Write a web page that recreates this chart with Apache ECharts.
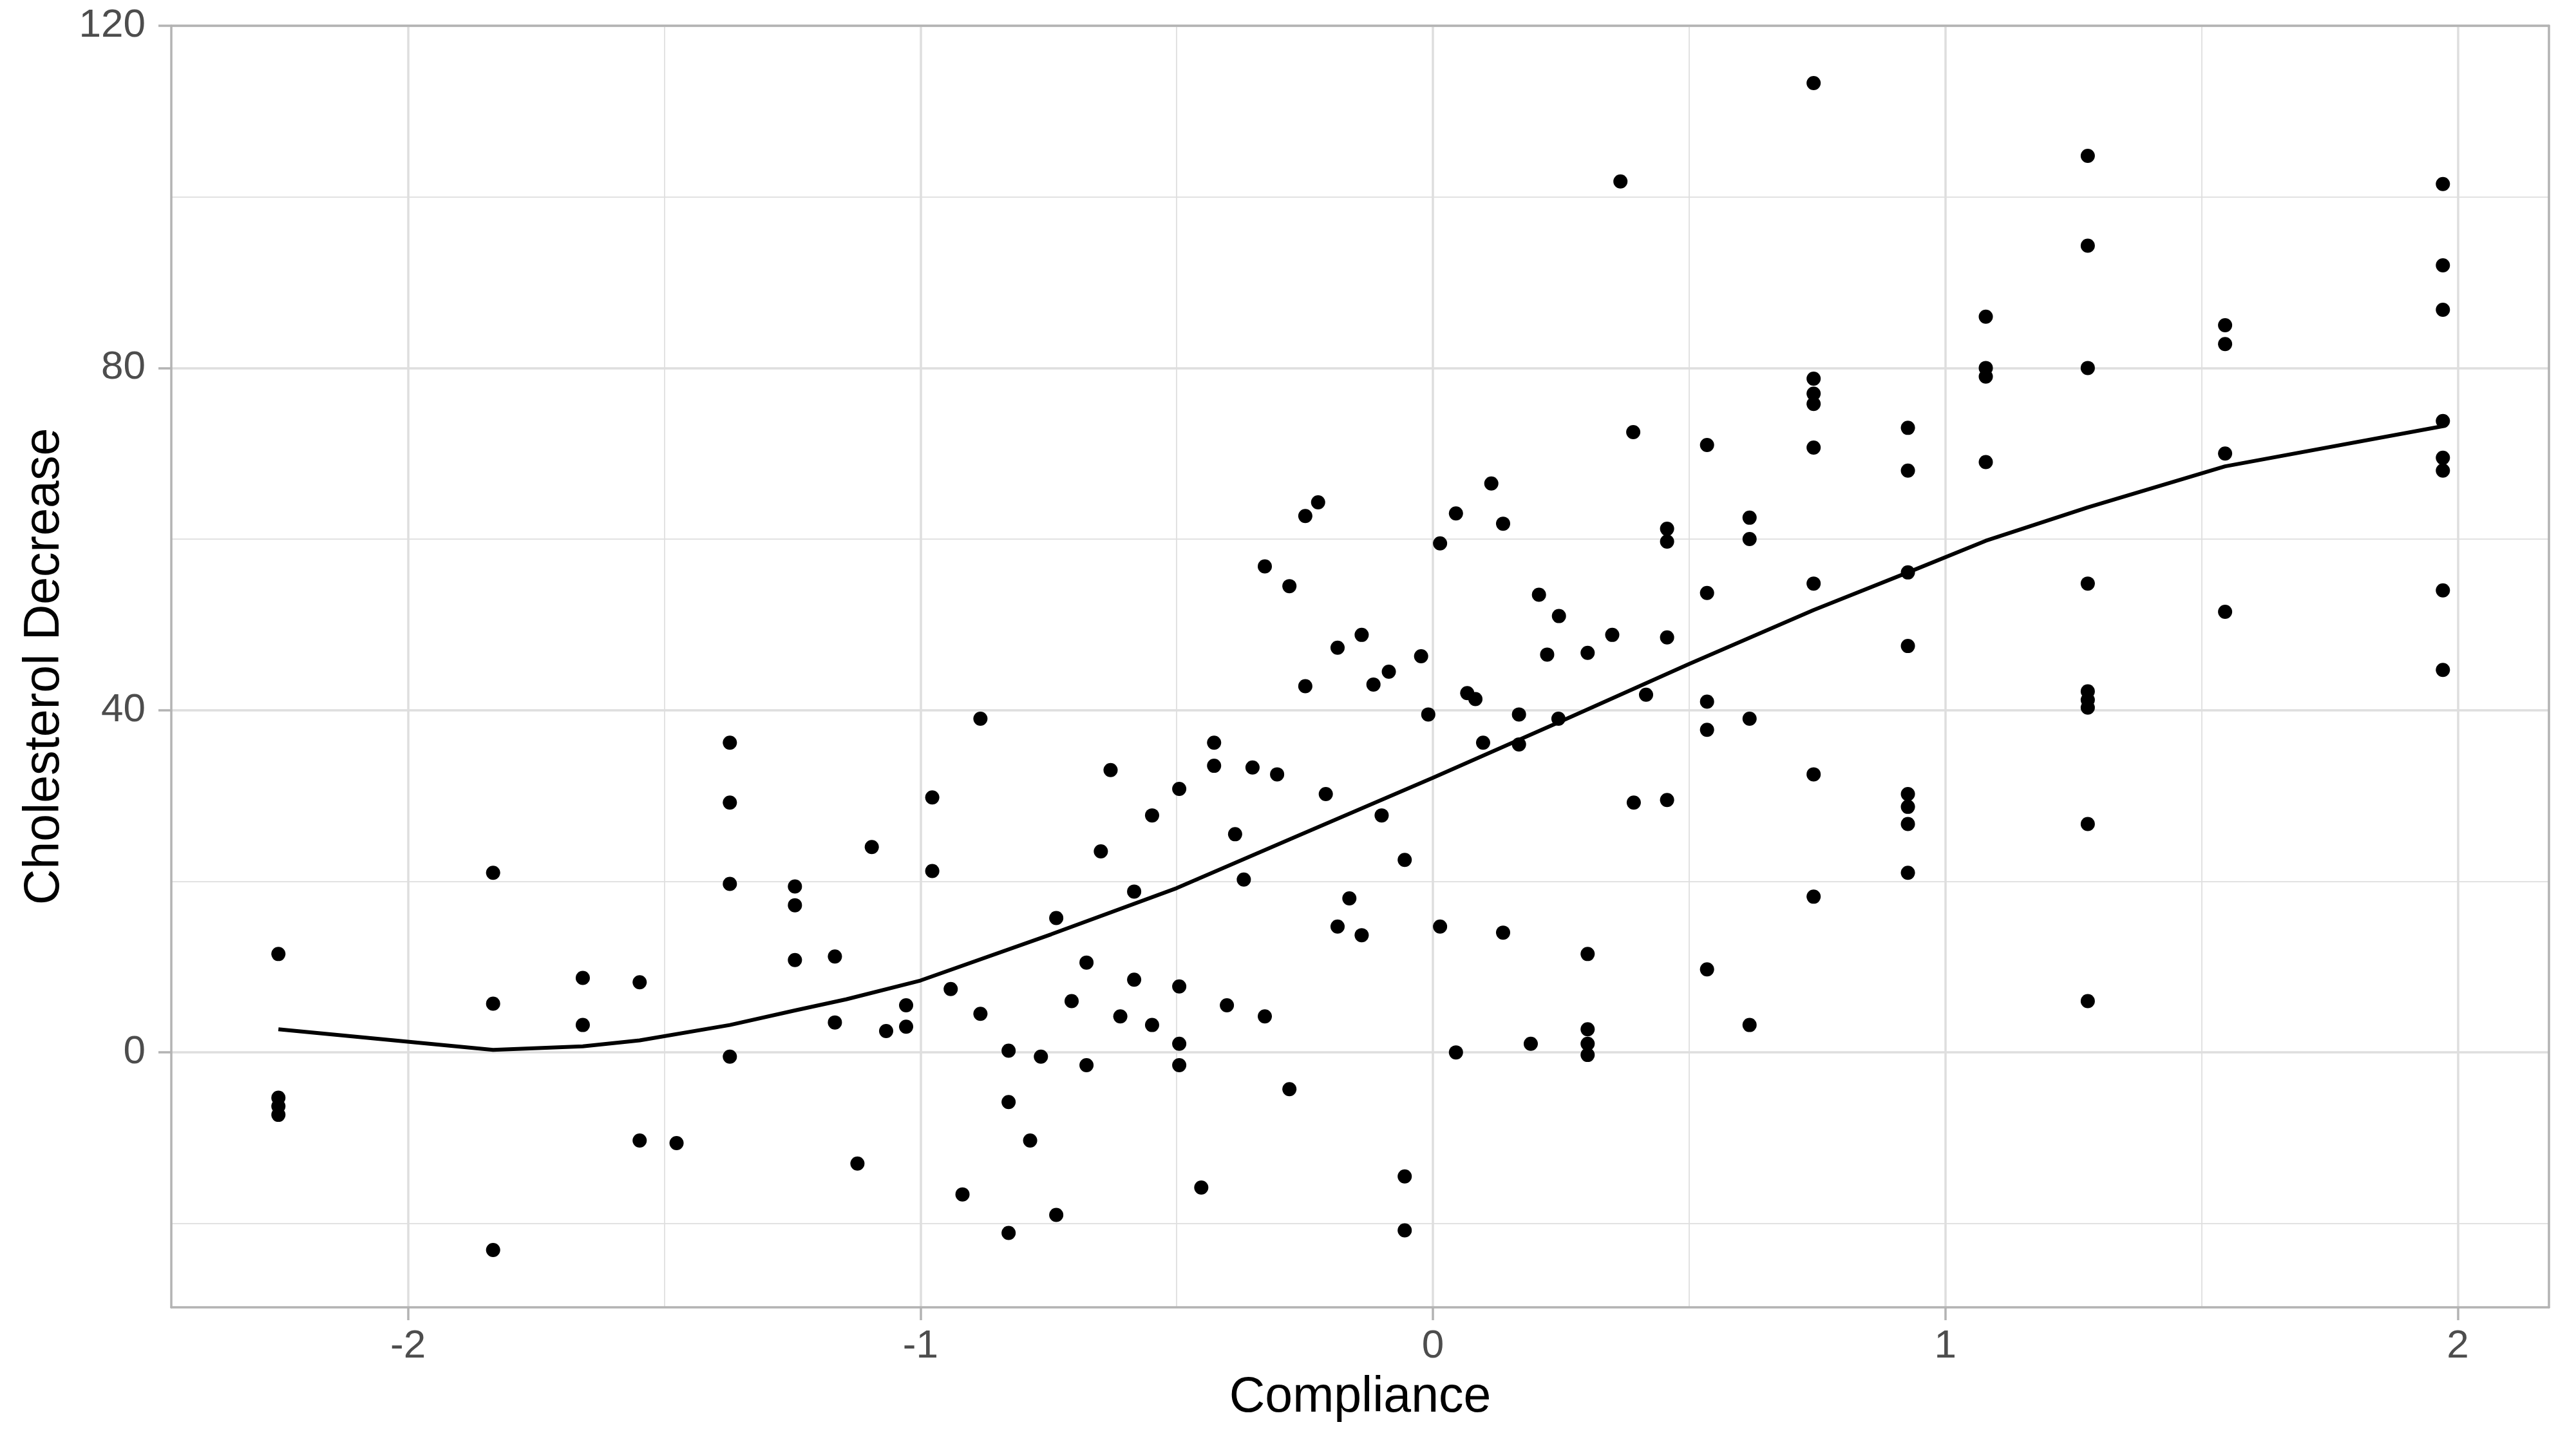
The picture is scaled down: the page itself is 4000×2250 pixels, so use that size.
<!DOCTYPE html>
<html>
<head>
<meta charset="utf-8">
<script src="https://cdn.jsdelivr.net/npm/echarts@6/dist/echarts.min.js"></script>
<style>
html, body { margin: 0; padding: 0; background: #ffffff; }
#chart { width: 4000px; height: 2250px; }
</style>
</head>
<body>
<div id="chart"></div>
<script>
// ---- data ----
const compliance = [
  -2.253, -2.253, -2.253, -2.253,
  -1.834, -1.834, -1.834,
  -1.659, -1.659,
  -1.548, -1.548,
  -1.476,
  -1.372, -1.372, -1.372, -1.372,
  -1.245, -1.245, -1.245,
  -1.167, -1.167,
  -1.123,
  -1.095,
  -1.067,
  -1.028, -1.028,
  -0.977, -0.977,
  -0.941,
  -0.918,
  -0.883, -0.883,
  -0.828, -0.828, -0.828,
  -0.786,
  -0.765,
  -0.735, -0.735,
  -0.705,
  -0.676, -0.676,
  -0.648,
  -0.629,
  -0.610,
  -0.583, -0.583,
  -0.548, -0.548,
  -0.495, -0.495, -0.495, -0.495,
  -0.452,
  -0.427, -0.427,
  -0.402,
  -0.386,
  -0.369,
  -0.352,
  -0.328, -0.328,
  -0.304,
  -0.280, -0.280,
  -0.249, -0.249,
  -0.224,
  -0.209,
  -0.186, -0.186,
  -0.163,
  -0.139, -0.139,
  -0.116,
  -0.100,
  -0.086,
  -0.055, -0.055, -0.055,
  -0.023,
  -0.009,
  0.014, 0.014,
  0.045, 0.045,
  0.067,
  0.083,
  0.098,
  0.114,
  0.137, 0.137,
  0.168, 0.168,
  0.191,
  0.207,
  0.223,
  0.245,
  0.246,
  0.302, 0.302, 0.302, 0.302, 0.302,
  0.350,
  0.366,
  0.391,
  0.392,
  0.416,
  0.457, 0.457, 0.457, 0.457,
  0.535, 0.535, 0.535, 0.535, 0.535,
  0.618, 0.618, 0.618, 0.618,
  0.743, 0.743, 0.743, 0.743, 0.743, 0.743, 0.743, 0.743,
  0.927, 0.927, 0.927, 0.927, 0.927, 0.927, 0.927, 0.927,
  1.079, 1.079, 1.079, 1.079,
  1.278, 1.278, 1.278, 1.278, 1.278, 1.278, 1.278, 1.278, 1.278,
  1.546, 1.546, 1.546, 1.546,
  1.971, 1.971, 1.971, 1.971, 1.971, 1.971, 1.971, 1.971
];
const decrease = [
  11.5, -5.3, -6.3, -7.3,
  21.0, 5.7, -23.1,
  8.7, 3.2,
  8.2, -10.3,
  -10.6,
  36.2, 29.2, 19.7, -0.5,
  19.4, 17.2, 10.8,
  11.2, 3.5,
  -13.0,
  24.0,
  2.5,
  5.5, 3.0,
  29.8, 21.2,
  7.4,
  -16.6,
  39.0, 4.5,
  0.2, -5.8, -21.1,
  -10.3,
  -0.5,
  15.7, -19.0,
  6.0,
  10.5, -1.5,
  23.5,
  33.0,
  4.2,
  18.8, 8.5,
  27.7, 3.2,
  30.8, 7.7, 1.0, -1.5,
  -15.8,
  36.2, 33.5,
  5.5,
  25.5,
  20.2,
  33.3,
  56.8, 4.2,
  32.5,
  54.5, -4.3,
  62.7, 42.8,
  64.3,
  30.2,
  47.3, 14.7,
  18.0,
  48.8, 13.7,
  43.0,
  27.7,
  44.5,
  22.5, -14.5, -20.8,
  46.3,
  39.5,
  59.5, 14.7,
  63.0, 0.0,
  42.0,
  41.3,
  36.2,
  66.5,
  61.8, 14.0,
  39.5, 36.0,
  1.0,
  53.5,
  46.5,
  39.0,
  51.0,
  46.7, 11.5, 2.7, 1.0, -0.3,
  48.8,
  101.8,
  72.5,
  29.2,
  41.8,
  61.2, 59.7, 48.5, 29.5,
  71.0, 53.7, 41.0, 37.7, 9.7,
  62.5, 60.0, 39.0, 3.2,
  113.3, 78.75, 77.0, 75.8, 70.7, 54.8, 32.5, 18.2,
  73.0, 68.0, 56.1, 47.5, 30.2, 28.7, 26.7, 21.0,
  86.0, 80.0, 79.0, 69.0,
  104.8, 94.3, 80.0, 54.8, 42.2, 41.2, 40.3, 26.7, 6.0,
  85.0, 82.8, 70.0, 51.5,
  101.5, 92.0, 86.8, 73.8, 69.5, 68.0, 54.0, 44.7
];
// smooth curve, read at its vertices
const curveX = [-2.253, -1.834, -1.659, -1.548, -1.372, -1.245, -1.145, -1.0, -0.745, -0.5, -0.264, 0.0, 0.25, 0.5, 0.743, 0.927, 1.079, 1.278, 1.546, 1.971];
const curveY = [2.7, 0.3, 0.7, 1.4, 3.2, 4.9, 6.2, 8.4, 13.8, 19.2, 25.3, 32.1, 38.7, 45.4, 51.7, 56.1, 59.8, 63.7, 68.5, 73.2];

// axis ticks
const xTicks = [-2, -1, 0, 1, 2];
const xMinorTicks = [-1.5, -0.5, 0.5, 1.5];
const yTicks = [0, 40, 80, 120];
const yMinorTicks = [-20, 20, 60, 100];
const xRange = [-2.462, 2.178];
const yRange = [-29.8, 120];

// ---- chart ----
const FONT = '"Liberation Sans", Arial, Helvetica, sans-serif';
const BORDER = '#B3B3B3';
const GRIDC = '#DEDEDE';

const scatterData = compliance.map((x, i) => [x, decrease[i]]);
const curveData = curveX.map((x, i) => [x, curveY[i]]);

const chart = echarts.init(document.getElementById('chart'), null, { renderer: 'canvas' });

chart.setOption({
  animation: false,
  backgroundColor: '#ffffff',
  textStyle: { fontFamily: FONT },
  grid: { left: 266, right: 42, top: 40, bottom: 220, containLabel: false },
  xAxis: [
    {
      type: 'value', min: xRange[0], max: xRange[1], position: 'bottom',
      name: 'Compliance', nameLocation: 'middle', nameGap: 102,
      nameTextStyle: { fontSize: 77, color: '#000000', fontFamily: FONT },
      axisLine: { show: true, onZero: false, lineStyle: { color: BORDER, width: 3.5 } },
      axisTick: { show: true, length: 20, customValues: xTicks, lineStyle: { color: BORDER, width: 3.5 } },
      axisLabel: { show: true, customValues: xTicks, margin: 30, fontSize: 62, color: '#4D4D4D', fontFamily: FONT },
      splitLine: { show: true, lineStyle: { color: GRIDC, width: 3.5 } },
      minorSplitLine: { show: false }
    },
    {
      type: 'value', min: xRange[0], max: xRange[1], position: 'top',
      axisLine: { show: true, onZero: false, lineStyle: { color: BORDER, width: 3.5 } },
      axisTick: { show: false, customValues: xMinorTicks },
      axisLabel: { show: false, customValues: xMinorTicks },
      splitLine: { show: true, lineStyle: { color: GRIDC, width: 1.75 } }
    }
  ],
  yAxis: [
    {
      type: 'value', min: yRange[0], max: yRange[1], position: 'left',
      name: 'Cholesterol Decrease', nameLocation: 'middle', nameGap: 158,
      nameTextStyle: { fontSize: 77, color: '#000000', fontFamily: FONT },
      axisLine: { show: true, onZero: false, lineStyle: { color: BORDER, width: 3.5 } },
      axisTick: { show: true, length: 20, customValues: yTicks, lineStyle: { color: BORDER, width: 3.5 } },
      axisLabel: { show: true, customValues: yTicks, margin: 40, fontSize: 62, color: '#4D4D4D', fontFamily: FONT },
      splitLine: { show: true, lineStyle: { color: GRIDC, width: 3.5 } }
    },
    {
      type: 'value', min: yRange[0], max: yRange[1], position: 'right',
      axisLine: { show: true, onZero: false, lineStyle: { color: BORDER, width: 3.5 } },
      axisTick: { show: false, customValues: yMinorTicks },
      axisLabel: { show: false, customValues: yMinorTicks },
      splitLine: { show: true, lineStyle: { color: GRIDC, width: 1.75 } }
    }
  ],
  series: [
    {
      name: 'points', type: 'scatter', xAxisIndex: 0, yAxisIndex: 0,
      data: scatterData, symbol: 'circle', symbolSize: 22,
      itemStyle: { color: '#000000', opacity: 1 }, z: 3
    },
    {
      name: 'smooth', type: 'line', xAxisIndex: 0, yAxisIndex: 0,
      data: curveData, showSymbol: false, symbol: 'none', smooth: false,
      lineStyle: { color: '#000000', width: 6, opacity: 1 }, z: 4
    }
  ]
});
</script>
</body>
</html>
